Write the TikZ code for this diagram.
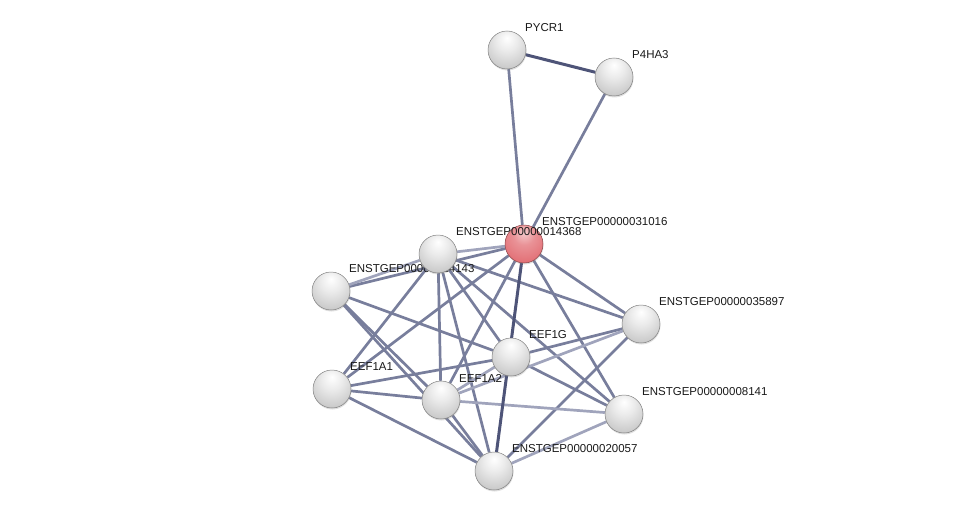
\documentclass[tikz,border=0pt]{standalone}
\usepackage{fontspec}
\setmainfont{Liberation Sans}
\usetikzlibrary{backgrounds, shadows}

\definecolor{edgecol}{RGB}{120,126,156}
\definecolor{edgedark}{RGB}{78,84,120}
\definecolor{edgelight}{RGB}{160,164,188}
\definecolor{hitcol}{RGB}{226,110,116}

% sphere look of the protein nodes
\pgfdeclareradialshading{greysphere}{\pgfpoint{0bp}{16bp}}{%
	color(0bp)=(white); color(14bp)=(black!8); color(34bp)=(black!22);
	color(50bp)=(black!38); color(70bp)=(black!50)}
\pgfdeclareradialshading{redsphere}{\pgfpoint{0bp}{16bp}}{%
	color(0bp)=(hitcol!35!white); color(14bp)=(hitcol!75!white); color(34bp)=(hitcol);
	color(50bp)=(hitcol!80!black); color(70bp)=(hitcol!65!black)}

\begin{document}
\begin{tikzpicture}[x=1pt,y=-1pt,
	ball/.style={
		circle, % grey protein spheres
		minimum size=38pt,
		inner sep=0pt,
		shading=greysphere,
		draw=black!50,
		line width=0.5pt,
		drop shadow={opacity=0.25,shadow xshift=0.5pt,shadow yshift=-1.5pt},
	},
	query/.style={ball, shading=redsphere, draw=hitcol!60!black},
	lbl/.style={font=\fontsize{11.5}{13}\selectfont, anchor=west, inner sep=1pt, text=black!90},
	edge/.style={line width=2.7pt, draw=edgecol},
	dark/.style={edge, draw=edgedark, line width=3pt},
	light/.style={edge, draw=edgelight},
]
	\useasboundingbox (0,0) rectangle (976,516);

	% nodes, each followed by its label (order gives the overlaps)
	\foreach \n/\x/\y/\t/\s in {
		pycr/507/50/PYCR1/ball,
		p4ha/614/77/P4HA3/ball,
		c/641/324/ENSTGEP00000035897/ball,
		d/624/414/ENSTGEP00000008141/ball,
		e/494/471/ENSTGEP00000020057/ball,
		aa/332/389/EEF1A1/ball,
		g/511/357/EEF1G/ball,
		ab/441/400/EEF1A2/ball,
		b/331/291/ENSTGEP00000024143/ball,
		r/524/244/ENSTGEP00000031016/query,
		a/438/254/ENSTGEP00000014368/ball%
	}{
		\node[\s] (\n) at (\x,\y) {};
		\node[lbl] (\n-t) at (\x+17,\y-22) {\t};
	}

	\begin{scope}[on background layer]
		\foreach \i/\j in {pycr/r, p4ha/r, r/b, r/c, r/d, r/aa, r/ab,
			a/c, a/d, a/g, a/aa, a/ab, a/e,
			b/g, b/ab, b/e, c/g, c/e,
			g/d, g/aa, aa/ab, aa/e, ab/e}{
			\draw[edge] (\i) -- (\j);
		}
		\foreach \i/\j in {r/a, b/a, ab/g, ab/c, ab/d, d/e}{
			\draw[light] (\i) -- (\j);
		}
		\draw[dark] (r) -- (e);
		\draw[dark] (pycr) -- (p4ha);
	\end{scope}

\end{tikzpicture}
\end{document}
